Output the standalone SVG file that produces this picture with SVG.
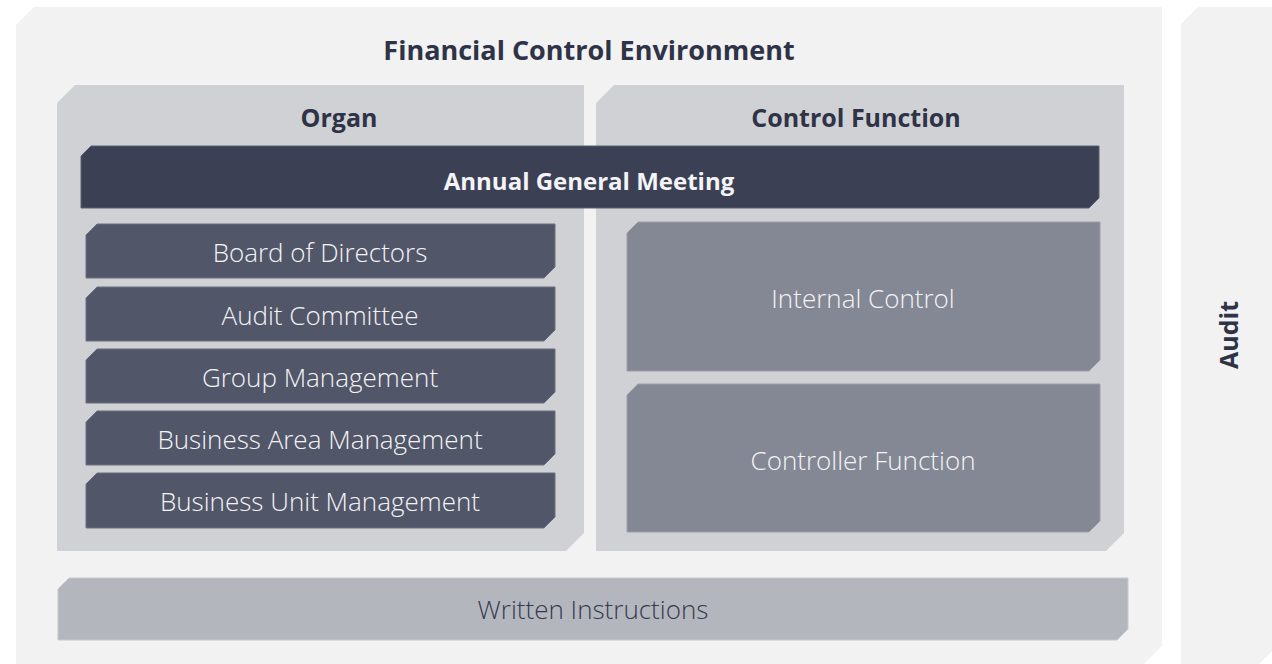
<svg xmlns="http://www.w3.org/2000/svg" width="1272" height="664" viewBox="0 0 1272 664">
<style>
.bg{fill:#f2f2f2}
.panel{fill:#d0d1d5}
.agm{fill:#3b4055;stroke:#5b6073;stroke-width:1}
.org{fill:#525669;stroke:#6a6e7f;stroke-width:1}
.ctl{fill:#848794;stroke:#9c9ea9;stroke-width:1}
.wr{fill:#b3b6bd;stroke:#c6c8cd;stroke-width:1}
.h{font-family:"Open Sans","Noto Sans",sans-serif;font-weight:700;fill:#2e3347;text-anchor:middle}
.w{font-family:"Open Sans","Noto Sans",sans-serif;font-weight:300;fill:#f4f4f6;text-anchor:middle;font-size:26px}
.wb{font-family:"Open Sans","Noto Sans",sans-serif;font-weight:700;fill:#f4f4f6;text-anchor:middle;font-size:24px}
.d{font-family:"Open Sans","Noto Sans",sans-serif;font-weight:300;fill:#353a50;text-anchor:middle;font-size:26px}
</style>
<rect width="1272" height="664" fill="#ffffff"/>
<g id="environment">
<polygon class="bg" points="16,25 34,7 1162,7 1162,646 1144,664 16,664"/>
<text class="h" x="589" y="60" font-size="27">Financial Control Environment</text>
</g>
<g id="audit">
<polygon class="bg" points="1181,24 1198,7 1276,7 1276,647 1259,664 1181,664"/>
<text class="h" font-size="25" transform="translate(1238,335) rotate(-90)">Audit</text>
</g>
<g id="organ">
<polygon class="panel" points="57,103 75,85 584,85 584,533 566,551 57,551"/>
<text class="h" x="339" y="127" font-size="25">Organ</text>
</g>
<g id="control-function">
<polygon class="panel" points="596,103 614,85 1124,85 1124,533 1106,551 596,551"/>
<text class="h" x="856" y="127" font-size="25">Control Function</text>
</g>
<g id="agm">
<polygon class="agm" points="81,156 91,146 1099,146 1099,198 1089,208 81,208"/>
<text class="wb" x="589" y="190">Annual General Meeting</text>
</g>
<g id="board">
<polygon class="org" points="86,235 97,224 555,224 555,267 544,278 86,278"/>
<text class="w" x="320" y="262">Board of Directors</text>
</g>
<g id="audit-committee">
<polygon class="org" points="86,298 97,287 555,287 555,330 544,341 86,341"/>
<text class="w" x="320" y="325">Audit Committee</text>
</g>
<g id="group-management">
<polygon class="org" points="86,360 97,349 555,349 555,392 544,403 86,403"/>
<text class="w" x="320" y="387">Group Management</text>
</g>
<g id="business-area">
<polygon class="org" points="86,422 97,411 555,411 555,454 544,465 86,465"/>
<text class="w" x="320" y="449">Business Area Management</text>
</g>
<g id="business-unit">
<polygon class="org" points="86,484 97,473 555,473 555,517 544,528 86,528"/>
<text class="w" x="320" y="511">Business Unit Management</text>
</g>
<g id="internal-control">
<polygon class="ctl" points="627,233 638,222 1100,222 1100,360 1089,371 627,371"/>
<text class="w" x="863" y="308">Internal Control</text>
</g>
<g id="controller-function">
<polygon class="ctl" points="627,395 638,384 1100,384 1100,521 1089,532 627,532"/>
<text class="w" x="863" y="470">Controller Function</text>
</g>
<g id="written-instructions">
<polygon class="wr" points="58,589 69,578 1128,578 1128,629 1117,640 58,640"/>
<text class="d" x="593" y="619">Written Instructions</text>
</g>
<g id="connectors"></g>
</svg>
